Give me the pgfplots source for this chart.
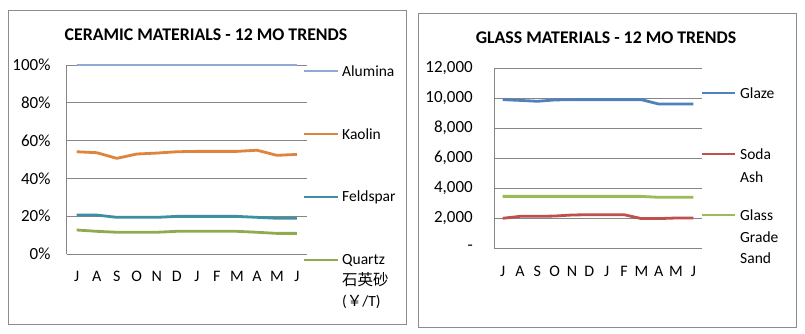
\documentclass[border=0pt]{standalone}
\usepackage{pgfplots}
\pgfplotsset{compat=1.18}
\usepackage{fontspec}
\setmainfont{Carlito}
\newfontfamily\cjk{Noto Sans CJK SC}
\definecolor{alumina}{RGB}{145,168,212}
\definecolor{kaolin}{RGB}{222,132,60}
\definecolor{feldspar}{RGB}{62,143,164}
\definecolor{quartz}{RGB}{142,171,80}
\definecolor{glaze}{RGB}{79,129,189}
\definecolor{soda}{RGB}{192,80,77}
\definecolor{sand}{RGB}{155,187,89}
\definecolor{gridgray}{RGB}{134,134,134}
\definecolor{framegray}{RGB}{140,140,140}
\newcommand{\lbl}{\fontsize{15.5}{18}\selectfont}
\newcommand{\ylbl}{\fontsize{17}{20}\selectfont}
\newcommand{\xlbl}{\fontsize{16}{19}\selectfont}
\newcommand{\ttl}{\fontsize{17.8}{20}\selectfont\bfseries}
\pgfplotsset{
  common/.style={
    scale only axis, anchor=south west, clip=false,
    xmin=-0.5, xmax=11.5,
    axis x line=bottom, axis y line=left,
    axis line style={draw=gridgray, line width=0.8pt, -},
    ymajorgrids, grid style={gridgray, line width=0.8pt},
    major tick length=0pt,
    xtick={0,...,11},
    xticklabels={J,A,S,O,N,D,J,F,M,A,M,J},
    tick label style={inner sep=0pt},
    xticklabel style={font=\xlbl},
    yticklabel style={font=\ylbl},
    scaled y ticks=false,
    /pgf/number format/assume math mode=true,
    every axis plot/.append style={line width=2.8pt, no markers, line join=round},
  }
}
\begin{document}
\begin{tikzpicture}[x=1pt,y=1pt]
\useasboundingbox (0,0) rectangle (805,334);
\fill[white] (0,0) rectangle (805,334);
\draw[framegray, line width=0.9pt] (8,10) rectangle (406,324);
\draw[framegray, line width=0.9pt] (418,7) rectangle (796,321);

% ---------- Left: ceramic ----------
\node[font=\ttl] at (206,299) {CERAMIC MATERIALS - 12 MO TRENDS};
\begin{axis}[common,
  at={(66.7pt,80pt)}, width=240.3pt, height=189pt,
  ymin=0, ymax=100,
  ytick={0,20,40,60,80,100},
  yticklabels={0\%,20\%,40\%,60\%,80\%,100\%},
  xticklabel style={anchor=base, yshift=-28pt},
  yticklabel style={anchor=east, xshift=-16pt},
]
\draw[gridgray, line width=0.8pt] (rel axis cs:0,1) -- (rel axis cs:1,1);
\addplot[alumina] coordinates {(0,100)(1,100)(2,100)(3,100)(4,100)(5,100)(6,100)(7,100)(8,100)(9,100)(10,100)(11,100)};
\addplot[kaolin] coordinates {(0,54.1)(1,53.6)(2,50.6)(3,52.9)(4,53.4)(5,54.1)(6,54.3)(7,54.3)(8,54.3)(9,54.9)(10,52.2)(11,52.7)};
\addplot[feldspar] coordinates {(0,20.6)(1,20.6)(2,19.4)(3,19.4)(4,19.4)(5,19.9)(6,19.9)(7,19.9)(8,19.9)(9,19.4)(10,18.9)(11,18.9)};
\addplot[quartz] coordinates {(0,12.7)(1,12.0)(2,11.5)(3,11.5)(4,11.5)(5,12.0)(6,12.0)(7,12.0)(8,12.0)(9,11.5)(10,10.9)(11,10.9)};
\end{axis}
\draw[alumina, line width=2.8pt] (304,263) -- (338,263);
\draw[kaolin, line width=2.8pt] (304,200) -- (338,200);
\draw[feldspar, line width=2.8pt] (304,137) -- (338,137);
\draw[quartz, line width=2.8pt] (304,74) -- (338,74);
\node[font=\lbl, anchor=west, inner sep=0pt] at (342,263) {Alumina};
\node[font=\lbl, anchor=west, inner sep=0pt] at (342,200) {Kaolin};
\node[font=\lbl, anchor=west, inner sep=0pt] at (342,137) {Feldspar};
\node[font=\lbl, anchor=west, inner sep=0pt] at (342,74) {Quartz};
\node[font=\lbl, anchor=west, inner sep=0pt] at (342,54) {\cjk 石英砂};
\node[font=\lbl, anchor=west, inner sep=0pt] at (342,32) {(\cjk ￥\normalfont/T)};

% ---------- Right: glass ----------
\node[font=\ttl] at (606,296) {GLASS MATERIALS - 12 MO TRENDS};
\begin{axis}[common,
  at={(494pt,86pt)}, width=208pt, height=180pt,
  ymin=0, ymax=12000,
  ytick={0,2000,4000,6000,8000,10000,12000},
  yticklabels={-\hspace{10pt},{2,000},{4,000},{6,000},{8,000},{10,000},{12,000}},
  xticklabel style={anchor=base, yshift=-29pt},
  yticklabel style={anchor=east, xshift=-21pt},
]
\draw[gridgray, line width=0.8pt] (rel axis cs:0,1) -- (rel axis cs:1,1);
\addplot[glaze] coordinates {(0,9890)(1,9840)(2,9780)(3,9870)(4,9890)(5,9890)(6,9890)(7,9890)(8,9890)(9,9600)(10,9600)(11,9600)};
\addplot[soda] coordinates {(0,1980)(1,2110)(2,2110)(3,2130)(4,2200)(5,2220)(6,2220)(7,2220)(8,1960)(9,1960)(10,2000)(11,2000)};
\addplot[sand] coordinates {(0,3440)(1,3440)(2,3440)(3,3440)(4,3440)(5,3440)(6,3440)(7,3440)(8,3440)(9,3380)(10,3380)(11,3380)};
\end{axis}
\draw[glaze, line width=2.8pt] (702,241) -- (735,241);
\draw[soda, line width=2.8pt] (702,180) -- (735,180);
\draw[sand, line width=2.8pt] (702,119) -- (735,119);
\node[font=\lbl, anchor=west, inner sep=0pt] at (740,241) {Glaze};
\node[font=\lbl, anchor=west, inner sep=0pt] at (740,180) {Soda};
\node[font=\lbl, anchor=west, inner sep=0pt] at (740,157) {Ash};
\node[font=\lbl, anchor=west, inner sep=0pt] at (740,119) {Glass};
\node[font=\lbl, anchor=west, inner sep=0pt] at (740,97) {Grade};
\node[font=\lbl, anchor=west, inner sep=0pt] at (740,76) {Sand};
\end{tikzpicture}
\end{document}
